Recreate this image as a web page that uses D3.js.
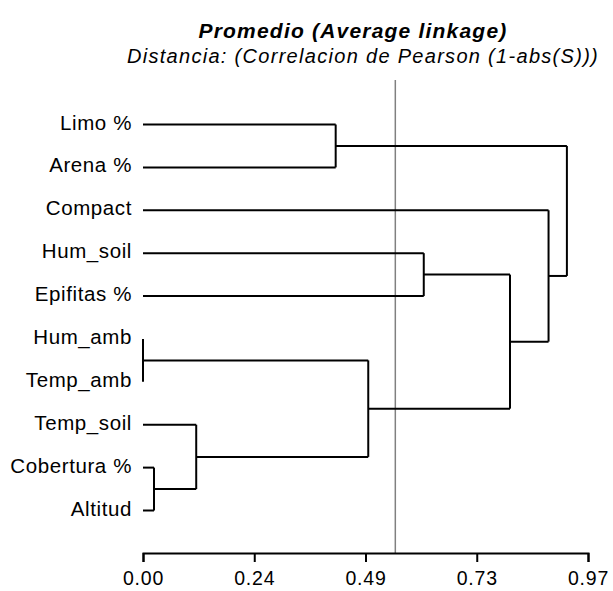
<!DOCTYPE html>
<html>
<head>
<meta charset="utf-8">
<script src="https://cdn.jsdelivr.net/npm/d3@7"></script>
<style>
  body { margin: 0; background: #fff; }
  svg { display: block; font-family: "Liberation Sans", Arial, sans-serif; }
</style>
</head>
<body>
<div id="chart"></div>
<script>
// leaves, top to bottom
const leaves = ["Limo %", "Arena %", "Compact", "Hum_soil", "Epifitas %",
                "Hum_amb", "Temp_amb", "Temp_soil", "Cobertura %", "Altitud"];

// merge steps (average linkage)
const mergeIds     = ["m1", "m2", "m3", "m4", "m5", "m6", "m7", "m8", "m9"];
const mergeLeft    = ["Hum_amb", "Cobertura %", "Temp_soil", "Limo %", "m1", "Hum_soil", "m6", "Compact", "m4"];
const mergeRight   = ["Temp_amb", "Altitud", "m2", "Arena %", "m3", "Epifitas %", "m5", "m7", "m8"];
const mergeHeights = [0.0, 0.024, 0.116, 0.420, 0.491, 0.612, 0.800, 0.884, 0.924];

const cutoff = 0.55;
const tickValues = [0, 0.2425, 0.485, 0.7275, 0.97];
const tickLabels = ["0.00", "0.24", "0.49", "0.73", "0.97"];

const title = "Promedio (Average linkage)";
const subtitle = "Distancia: (Correlacion de Pearson (1-abs(S)))";

const width = 613, height = 591;
const svg = d3.select("#chart").append("svg")
    .attr("width", width)
    .attr("height", height);

const x = d3.scaleLinear().domain([0, 0.97]).range([143, 588]);
const y = d3.scalePoint().domain(leaves).range([124.5, 510.5]);
const axisY = 553;

// node positions
const pos = {};
leaves.forEach(l => { pos[l] = { h: 0, y: y(l) }; });
mergeIds.forEach((id, i) => {
    const a = pos[mergeLeft[i]], b = pos[mergeRight[i]];
    pos[id] = { h: mergeHeights[i], y: (a.y + b.y) / 2 };
});

// titles
svg.append("text")
    .attr("x", 353).attr("y", 38)
    .attr("text-anchor", "middle")
    .style("font-size", "21px")
    .style("font-weight", "bold")
    .style("font-style", "italic")
    .style("letter-spacing", "1.2px")
    .text(title);

svg.append("text")
    .attr("x", 363).attr("y", 63)
    .attr("text-anchor", "middle")
    .style("font-size", "20px")
    .style("font-style", "italic")
    .style("letter-spacing", "1.3px")
    .text(subtitle);

// cut line
svg.append("line")
    .attr("x1", x(cutoff)).attr("x2", x(cutoff))
    .attr("y1", 80).attr("y2", axisY)
    .attr("stroke", "#808080")
    .attr("stroke-width", 1.5);

// dendrogram
const g = svg.append("g")
    .attr("fill", "none")
    .attr("stroke", "#000")
    .attr("stroke-width", 2);

mergeIds.forEach((id, i) => {
    const p = pos[id];
    [mergeLeft[i], mergeRight[i]].forEach(c => {
        g.append("line")
            .attr("x1", x(pos[c].h)).attr("x2", x(p.h))
            .attr("y1", pos[c].y).attr("y2", pos[c].y);
    });
    g.append("line")
        .attr("x1", x(p.h)).attr("x2", x(p.h))
        .attr("y1", pos[mergeLeft[i]].y).attr("y2", pos[mergeRight[i]].y);
});

// leaf labels
svg.append("g").selectAll("text")
    .data(leaves)
    .join("text")
    .attr("x", 132)
    .attr("y", d => y(d) + 5)
    .attr("text-anchor", "end")
    .style("font-size", "20.5px")
    .style("letter-spacing", "0.6px")
    .text(d => d);

// axis
const axis = svg.append("g")
    .attr("transform", `translate(0,${axisY})`)
    .call(d3.axisBottom(x)
        .tickValues(tickValues)
        .tickFormat((d, i) => tickLabels[i])
        .tickSizeOuter(0)
        .tickSize(9)
        .tickPadding(9));

axis.select(".domain").attr("stroke-width", 2);
axis.selectAll(".tick line").attr("stroke-width", 2);
axis.selectAll(".tick text")
    .style("font-size", "19.5px")
    .style("font-family", "'Liberation Sans', Arial, sans-serif")
    .style("letter-spacing", "0.8px")
    .attr("fill", "#000");
</script>
</body>
</html>
